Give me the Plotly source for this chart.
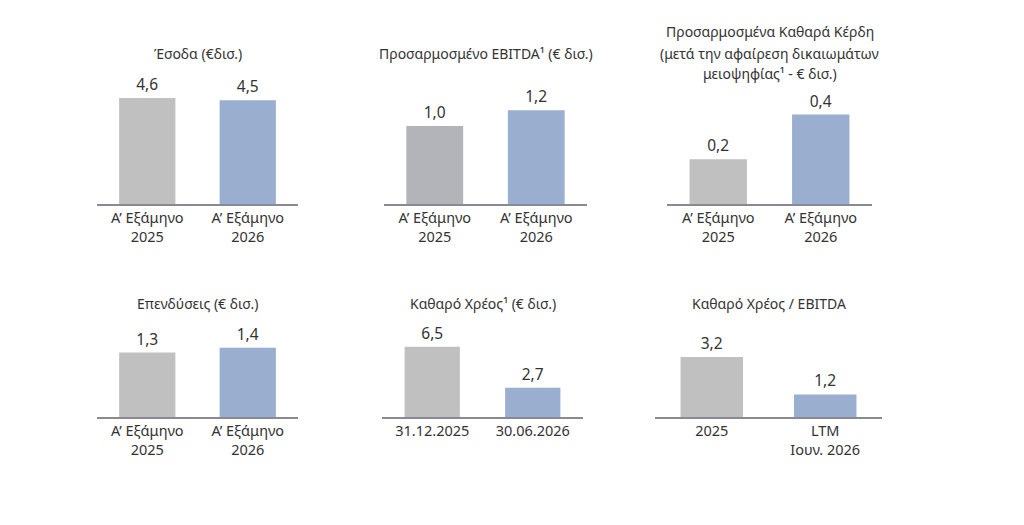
import plotly.graph_objects as go

# data
titles = [
    ["Έσοδα (€δισ.)"],
    ["Προσαρμοσμένο EBITDA¹ (€ δισ.)"],
    ["Προσαρμοσμένα Καθαρά Κέρδη", "(μετά την αφαίρεση δικαιωμάτων", "μειοψηφίας¹ - € δισ.)"],
    ["Επενδύσεις (€ δισ.)"],
    ["Καθαρό Χρέος¹ (€ δισ.)"],
    ["Καθαρό Χρέος / EBITDA"],
]
half_year_labels = ["Α’ Εξάμηνο<br>2025", "Α’ Εξάμηνο<br>2026"]
debt_labels = ["31.12.2025", "30.06.2026"]
ratio_labels = ["2025", "LTM<br>Ιουν. 2026"]

revenue = [4.6, 4.5]
ebitda = [1.0, 1.2]
net_profit = [0.2, 0.4]
capex = [1.3, 1.4]
net_debt = [6.5, 2.7]
debt_ratio = [3.2, 1.2]

panels = [
    (half_year_labels, revenue),
    (half_year_labels, ebitda),
    (half_year_labels, net_profit),
    (half_year_labels, capex),
    (debt_labels, net_debt),
    (ratio_labels, debt_ratio),
]

W, H = 1024, 525
OFF = 8  # page body margin shifts the plot
# pixel layout of each panel: (x0, x1, y_top, y_base, y max of axis, bar width, grey colour)
boxes = [
    (97, 298, 90, 204, 4.95, 0.56, "#C0C0C0"),
    (384, 587, 90, 204, 1.46, 0.56, "#B3B3BA"),
    (667, 872, 90, 204, 0.51, 0.56, "#C0C0C0"),
    (97, 298, 310, 417, 2.16, 0.56, "#C0C0C0"),
    (382, 583, 310, 417, 9.9, 0.55, "#C0C0C0"),
    (655, 882, 310, 417, 5.7, 0.55, "#C0C0C0"),
]
title_y = [[54], [54], [32, 53, 73], [303], [303], [303]]

txt = "#333333"
font = "Noto Sans"
fig = go.Figure()

for i, ((cats, vals), (x0, x1, yt, yb, ymax, bw, grey)) in enumerate(zip(panels, boxes)):
    n = "" if i == 0 else str(i + 1)
    x0, x1, yt, yb = x0 - OFF, x1 - OFF, yt - OFF, yb - OFF
    fig.add_trace(go.Bar(
        x=cats, y=vals,
        xaxis="x" + n, yaxis="y" + n,
        marker=dict(color=[grey, "#9AAFCF"], line=dict(width=0)),
        width=bw,
        text=[f"{v:.1f}".replace(".", ",") for v in vals],
        textposition="outside",
        textfont=dict(size=15.5, color=txt, family=font),
        cliponaxis=False,
        showlegend=False,
    ))
    fig.layout["xaxis" + n] = dict(
        domain=[x0 / W, x1 / W], anchor="y" + n,
        type="category", range=[-0.5, 1.5],
        showline=True, linecolor="#8A8A95", linewidth=1.5,
        ticks="", showgrid=False,
        tickfont=dict(size=14.5, color=txt, family=font),
    )
    fig.layout["yaxis" + n] = dict(
        domain=[1 - yb / H, 1 - yt / H], anchor="x" + n,
        range=[0, ymax], visible=False, showgrid=False,
    )
    for line, ty in zip(titles[i], title_y[i]):
        fig.add_annotation(
            x=(x0 + x1) / 2 / W, y=1 - (ty - OFF) / H,
            xref="paper", yref="paper", text=line,
            showarrow=False, xanchor="center", yanchor="middle",
            font=dict(size=14, color=txt, family=font),
        )

fig.update_layout(
    width=W, height=H,
    margin=dict(l=0, r=0, t=0, b=0),
    paper_bgcolor="white", plot_bgcolor="white",
    bargap=0.4,
)

fig.write_html("out.html")
